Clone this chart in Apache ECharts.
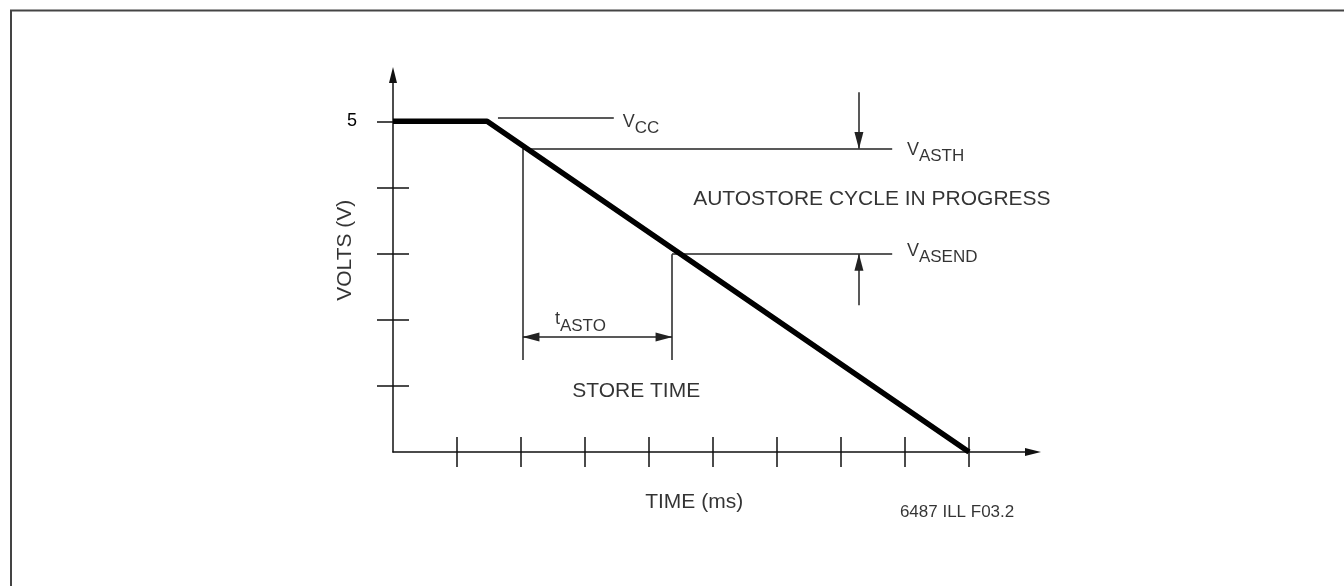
<!DOCTYPE html>
<html>
<head>
<meta charset="utf-8">
<title>Autostore cycle timing</title>
<script src="https://cdn.jsdelivr.net/npm/echarts@6/dist/echarts.min.js"></script>
<style>
  html, body { margin: 0; padding: 0; background: #fff; }
  #chart { width: 1344px; height: 586px; }
</style>
</head>
<body>
<div id="chart"></div>
<script>
// VCC during power-down (time in ms ticks, volts)
const timeMs = [0, 1.47, 9];
const volts = [5, 5, 0];
const timeTicks = [1, 2, 3, 4, 5, 6, 7, 8, 9];
const voltTicks = [1, 2, 3, 4, 5];
const voltLabels = [5];

// reference levels: VCC, VASTH, VASEND
const levelY = [5.06, 4.59, 2.99];
const levelFrom = [1.64, 2.03, 4.36];
const levelTo = [3.45, 7.8, 7.8];

// tASTO window
const storeStart = 2.03;
const storeEnd = 4.36;
const storeArrowY = 1.74;
const storeDropY = 1.39;

// threshold arrows
const arrowX = 7.28;
const arrowDown = [5.44, 4.59];
const arrowUp = [2.22, 2.99];

// subscripted labels
const symMain = ['V', 'V', 'V', 't'];
const symSub = ['CC', 'ASTH', 'ASEND', 'ASTO'];
const symX = [3.59, 8.03, 8.03, 2.53];
const symY = [4.94, 4.52, 2.99, 1.95];

// plain labels
const notes = ['AUTOSTORE CYCLE IN PROGRESS', 'STORE TIME', 'TIME (ms)', '6487 ILL F03.2'];
const noteX = [4.69, 2.80, 3.94, 7.92];
const noteY = [3.82, 0.92, -0.76, -0.91];
const yName = 'VOLTS (V)';
const yNameAt = [-0.75, 3.05];

const FONT = '"Liberation Sans", Arial, Helvetica, sans-serif';
const INK = '#000';

const chart = echarts.init(document.getElementById('chart'));

function seg(x1, y1, x2, y2, endArrow, startArrow) {
  const head = { symbol: 'triangle', symbolSize: [9, 17], symbolOffset: [0, 8] };
  const a = { coord: [x1, y1], symbol: 'none' };
  const b = { coord: [x2, y2], symbol: 'none' };
  if (startArrow) Object.assign(a, head);
  if (endArrow) Object.assign(b, head);
  return [a, b];
}

const marks = [];
levelY.forEach((y, i) => marks.push(seg(levelFrom[i], y, levelTo[i], y)));
marks.push(seg(storeStart, levelY[1], storeStart, storeDropY));
marks.push(seg(storeEnd, levelY[2], storeEnd, storeDropY));
marks.push(seg(storeStart, storeArrowY, storeEnd, storeArrowY, true, true));
marks.push(seg(arrowX, arrowDown[0], arrowX, arrowDown[1], true));
marks.push(seg(arrowX, arrowUp[0], arrowX, arrowUp[1], true));

const axisInk = { color: '#111', width: 1.5 };

function xAx(inside, withLine) {
  return {
    type: 'value', min: 0, max: 10, position: 'bottom',
    axisLine: withLine
      ? { show: true, onZero: false, symbol: ['none', 'triangle'], symbolSize: [8, 16], lineStyle: axisInk }
      : { show: false },
    axisTick: { show: true, inside, length: 15, customValues: timeTicks, lineStyle: axisInk },
    axisLabel: { show: false },
    splitLine: { show: false },
  };
}

function yAx(inside, withLine) {
  return {
    type: 'value', min: 0, max: 5.7, position: 'left',
    axisLine: withLine
      ? { show: true, onZero: false, symbol: ['none', 'triangle'], symbolSize: [8, 16], lineStyle: axisInk }
      : { show: false },
    axisTick: { show: true, inside, length: 16, customValues: voltTicks, lineStyle: axisInk },
    axisLabel: withLine
      ? { show: true, customValues: voltLabels, margin: 36, fontSize: 18, color: INK, fontFamily: FONT }
      : { show: false },
    splitLine: { show: false },
  };
}

chart.setOption({
  animation: false,
  backgroundColor: '#fff',
  textStyle: { fontFamily: FONT },
  grid: { left: 393, top: 75, width: 640, height: 377 },
  xAxis: [xAx(false, true), xAx(true, false)],
  yAxis: [yAx(false, true), yAx(true, false)],
  graphic: [{
    type: 'rect',
    shape: { x: 11, y: 10.5, width: 1400, height: 700 },
    style: { fill: 'none', stroke: '#444', lineWidth: 2 },
    silent: true,
  }],
  series: [
    {
      type: 'line',
      data: timeMs.map((t, i) => [t, volts[i]]),
      symbol: 'none',
      lineStyle: { color: '#000', width: 5.5 },
      silent: true,
      z: 5,
      markLine: {
        silent: true,
        symbol: ['none', 'none'],
        label: { show: false },
        lineStyle: { color: '#222', width: 1.5, type: 'solid' },
        data: marks,
      },
    },
    {
      type: 'scatter',
      symbolSize: 0,
      clip: false,
      silent: true,
      data: symMain.map((m, i) => ({ value: [symX[i], symY[i]], name: m + '|' + symSub[i] })),
      label: {
        show: true,
        position: 'right',
        distance: 0,
        formatter: (p) => {
          const [m, s] = p.name.split('|');
          return '{m|' + m + '}{s|' + s + '}';
        },
        rich: {
          m: { fontSize: 18, color: INK, fontFamily: FONT, padding: [0, 0, 7, 0] },
          s: { fontSize: 17, color: INK, fontFamily: FONT, padding: [7, 0, 0, 0] },
        },
      },
    },
    {
      type: 'scatter',
      symbolSize: 0,
      clip: false,
      silent: true,
      data: notes.map((t, i) => ({
        value: [noteX[i], noteY[i]],
        name: t,
        label: { fontSize: i === 3 ? 17 : 21 },
      })).concat([{
        value: yNameAt,
        name: yName,
        label: { position: 'inside', rotate: 90, align: 'center', verticalAlign: 'middle', fontSize: 21 },
      }]),
      label: {
        show: true,
        position: 'right',
        distance: 0,
        formatter: '{b}',
        color: INK,
        fontFamily: FONT,
      },
    },
  ],
});

window.addEventListener('resize', () => chart.resize());
</script>
</body>
</html>
